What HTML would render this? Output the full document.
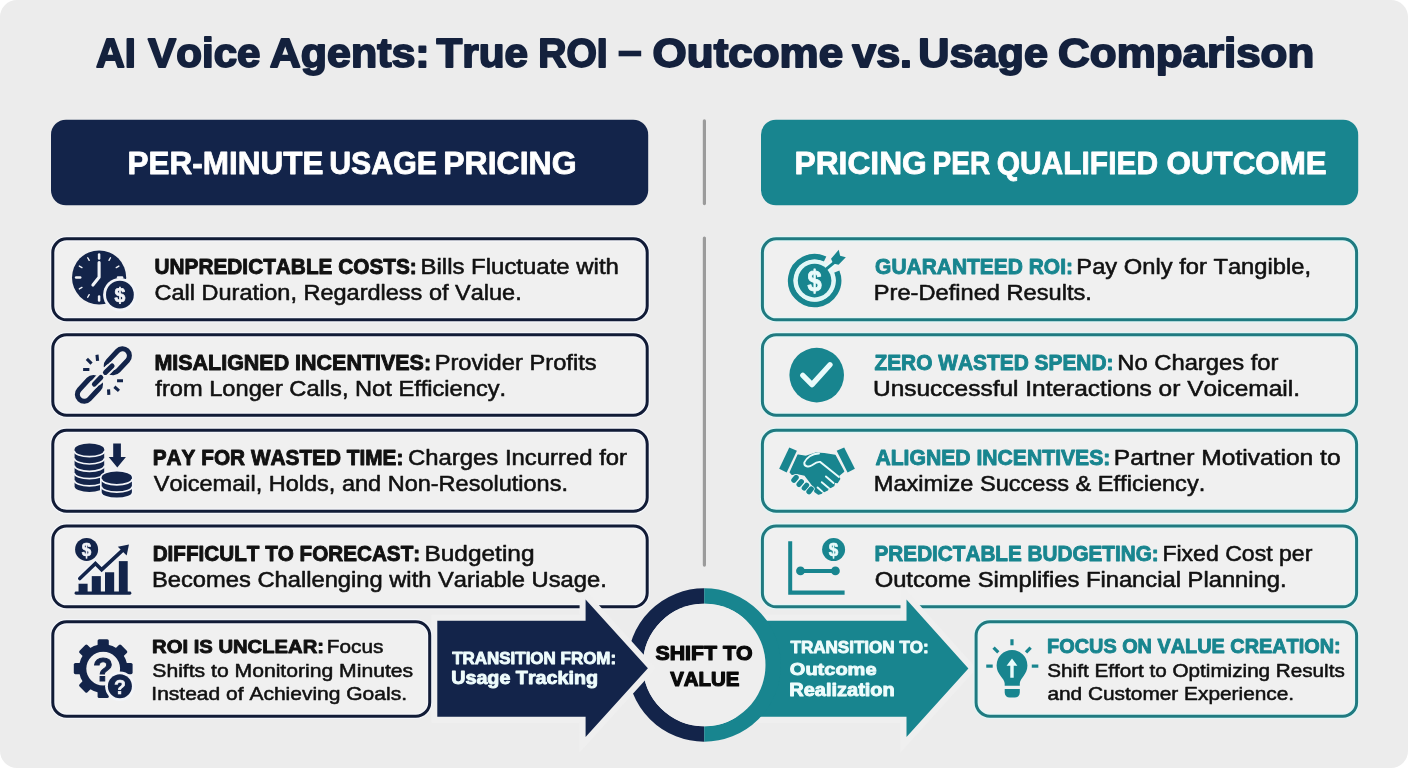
<!DOCTYPE html>
<html><head><meta charset="utf-8"><title>AI Voice Agents: True ROI</title>
<style>
html,body{margin:0;padding:0;background:#ffffff;}
body{width:1408px;height:768px;overflow:hidden;}
svg{display:block;will-change:transform;}
text{font-family:"Liberation Sans",sans-serif;font-kerning:none;white-space:pre;}
</style></head>
<body>
<svg width="1408" height="768" viewBox="0 0 1408 768">
<rect x="0" y="0" width="1408" height="768" rx="17" ry="17" fill="#ececec"/>
<rect x="702.8" y="119.2" width="3.2" height="86" rx="1.6" fill="#9b9b9b"/>
<rect x="702.8" y="236.5" width="3.2" height="330.2" rx="1.6" fill="#9b9b9b"/>
<rect x="51" y="119.7" width="597.2" height="85.6" rx="15" fill="#13244a"/>
<rect x="761" y="119.7" width="597.2" height="85.6" rx="15" fill="#18858f"/>
<rect x="52.80" y="238.80" width="594.40" height="80.95" rx="13.8" fill="#f0f0f0" stroke="#f3f5fa" stroke-width="5.4"/><rect x="52.80" y="238.80" width="594.40" height="80.95" rx="13.8" fill="none" stroke="#111b36" stroke-width="3.0"/>
<rect x="762.40" y="238.80" width="594.20" height="80.95" rx="13.8" fill="#f0f0f0" stroke="#e1f6f6" stroke-width="5.4"/><rect x="762.40" y="238.80" width="594.20" height="80.95" rx="13.8" fill="none" stroke="#1f7a80" stroke-width="3.0"/>
<rect x="52.80" y="334.70" width="594.40" height="80.50" rx="13.8" fill="#f0f0f0" stroke="#f3f5fa" stroke-width="5.4"/><rect x="52.80" y="334.70" width="594.40" height="80.50" rx="13.8" fill="none" stroke="#111b36" stroke-width="3.0"/>
<rect x="762.40" y="334.70" width="594.20" height="80.50" rx="13.8" fill="#f0f0f0" stroke="#e1f6f6" stroke-width="5.4"/><rect x="762.40" y="334.70" width="594.20" height="80.50" rx="13.8" fill="none" stroke="#1f7a80" stroke-width="3.0"/>
<rect x="52.80" y="430.25" width="594.40" height="81.05" rx="13.8" fill="#f0f0f0" stroke="#f3f5fa" stroke-width="5.4"/><rect x="52.80" y="430.25" width="594.40" height="81.05" rx="13.8" fill="none" stroke="#111b36" stroke-width="3.0"/>
<rect x="762.40" y="430.25" width="594.20" height="81.05" rx="13.8" fill="#f0f0f0" stroke="#e1f6f6" stroke-width="5.4"/><rect x="762.40" y="430.25" width="594.20" height="81.05" rx="13.8" fill="none" stroke="#1f7a80" stroke-width="3.0"/>
<rect x="52.80" y="525.90" width="594.40" height="80.90" rx="13.8" fill="#f0f0f0" stroke="#f3f5fa" stroke-width="5.4"/><rect x="52.80" y="525.90" width="594.40" height="80.90" rx="13.8" fill="none" stroke="#111b36" stroke-width="3.0"/>
<rect x="762.40" y="525.90" width="594.20" height="80.90" rx="13.8" fill="#f0f0f0" stroke="#e1f6f6" stroke-width="5.4"/><rect x="762.40" y="525.90" width="594.20" height="80.90" rx="13.8" fill="none" stroke="#1f7a80" stroke-width="3.0"/>
<path d="M704.2,596.0 A69.0,69.0 0 0 0 704.2,734.0" fill="none" stroke="#13244a" stroke-width="15.400000000000006"/>
<path d="M704,620.8 L906.5,620.8 L906.5,599.4 L968.4,668.4 L906.5,736.9 L906.5,716.7 L704,716.7 Z" fill="#18858f" stroke="#efefef" stroke-width="12" stroke-linejoin="miter" paint-order="stroke"/>
<path d="M704.2,596.0 A69.0,69.0 0 0 1 704.2,734.0" fill="none" stroke="#18858f" stroke-width="15.400000000000006"/>
<circle cx="704.2" cy="665.0" r="61.3" fill="#eeeeee"/>
<path d="M437.3,620.8 L585.6,620.8 L585.6,599.4 L647.9,668.2 L585.6,736.9 L585.6,716.7 L437.3,716.7 Z" fill="#13244a" stroke="#efefef" stroke-width="12" stroke-linejoin="miter" paint-order="stroke"/>
<rect x="52.80" y="621.70" width="376.90" height="94.50" rx="13.8" fill="#f0f0f0" stroke="#f3f5fa" stroke-width="5.4"/><rect x="52.80" y="621.70" width="376.90" height="94.50" rx="13.8" fill="none" stroke="#111b36" stroke-width="3.0"/>
<rect x="976.10" y="621.70" width="380.50" height="94.50" rx="13.8" fill="#f0f0f0" stroke="#e1f6f6" stroke-width="5.4"/><rect x="976.10" y="621.70" width="380.50" height="94.50" rx="13.8" fill="none" stroke="#1f7a80" stroke-width="3.0"/>
<circle cx="99.1" cy="277.5" r="27.1" fill="#13244a"/>
<line x1="99.10" y1="258.60" x2="99.10" y2="254.50" stroke="#f2f4f8" stroke-width="2.5" stroke-linecap="round"/>
<line x1="109.00" y1="260.35" x2="110.50" y2="257.75" stroke="#f2f4f8" stroke-width="1.4" stroke-linecap="round"/>
<line x1="116.25" y1="267.60" x2="118.85" y2="266.10" stroke="#f2f4f8" stroke-width="1.4" stroke-linecap="round"/>
<line x1="118.00" y1="277.50" x2="122.10" y2="277.50" stroke="#f2f4f8" stroke-width="2.5" stroke-linecap="round"/>
<line x1="116.25" y1="287.40" x2="118.85" y2="288.90" stroke="#f2f4f8" stroke-width="1.4" stroke-linecap="round"/>
<line x1="109.00" y1="294.65" x2="110.50" y2="297.25" stroke="#f2f4f8" stroke-width="1.4" stroke-linecap="round"/>
<line x1="99.10" y1="296.40" x2="99.10" y2="300.50" stroke="#f2f4f8" stroke-width="2.5" stroke-linecap="round"/>
<line x1="89.20" y1="294.65" x2="87.70" y2="297.25" stroke="#f2f4f8" stroke-width="1.4" stroke-linecap="round"/>
<line x1="81.95" y1="287.40" x2="79.35" y2="288.90" stroke="#f2f4f8" stroke-width="1.4" stroke-linecap="round"/>
<line x1="80.20" y1="277.50" x2="76.10" y2="277.50" stroke="#f2f4f8" stroke-width="2.5" stroke-linecap="round"/>
<line x1="81.95" y1="267.60" x2="79.35" y2="266.10" stroke="#f2f4f8" stroke-width="1.4" stroke-linecap="round"/>
<line x1="89.20" y1="260.35" x2="87.70" y2="257.75" stroke="#f2f4f8" stroke-width="1.4" stroke-linecap="round"/>
<polyline points="99.1,262.6 99.1,277.2 92.9,285" fill="none" stroke="#f2f4f8" stroke-width="3.1" stroke-linecap="round" stroke-linejoin="round"/>
<circle cx="119.9" cy="294.7" r="16.8" fill="#f2f4f8"/>
<circle cx="119.9" cy="294.7" r="13.9" fill="#13244a"/>
<text transform="translate(119.90,301.97) scale(0.95,1)" text-anchor="middle" font-size="20.5" font-weight="bold" fill="#f2f4f8" stroke="#f2f4f8" stroke-width="0.7" stroke-linejoin="round">$</text>
<rect x="-13.8" y="-6.9" width="27.6" height="13.8" rx="6.9" transform="translate(117.81,360.79) rotate(-47)" fill="none" stroke="#13244a" stroke-width="5"/>
<rect x="-13.8" y="-6.9" width="27.6" height="13.8" rx="6.9" transform="translate(88.96,389.33) rotate(-47)" fill="none" stroke="#13244a" stroke-width="5"/>
<line x1="108.96" y1="368.81" x2="105.83" y2="371.94" stroke="#f0f0f0" stroke-width="9" stroke-linecap="round"/>
<line x1="101.15" y1="377.67" x2="97.71" y2="381.00" stroke="#f0f0f0" stroke-width="9" stroke-linecap="round"/>
<line x1="112.60" y1="365.69" x2="105.00" y2="372.67" stroke="#f0f0f0" stroke-width="8.6" stroke-linecap="round"/>
<line x1="100.10" y1="377.67" x2="93.85" y2="384.44" stroke="#f0f0f0" stroke-width="8.6" stroke-linecap="round"/>
<line x1="112.08" y1="366.00" x2="105.42" y2="372.46" stroke="#13244a" stroke-width="5" stroke-linecap="round"/>
<line x1="100.83" y1="377.46" x2="94.38" y2="384.12" stroke="#13244a" stroke-width="5" stroke-linecap="round"/>
<line x1="96.98" y1="354.75" x2="97.60" y2="360.79" stroke="#13244a" stroke-width="3.1" stroke-linecap="butt"/>
<line x1="86.88" y1="358.92" x2="91.56" y2="363.60" stroke="#13244a" stroke-width="3.1" stroke-linecap="butt"/>
<line x1="83.12" y1="369.44" x2="89.38" y2="369.54" stroke="#13244a" stroke-width="3.1" stroke-linecap="butt"/>
<line x1="117.08" y1="380.69" x2="123.02" y2="380.79" stroke="#13244a" stroke-width="3.1" stroke-linecap="butt"/>
<line x1="114.38" y1="386.73" x2="118.96" y2="390.79" stroke="#13244a" stroke-width="3.1" stroke-linecap="butt"/>
<line x1="108.54" y1="389.33" x2="108.85" y2="394.96" stroke="#13244a" stroke-width="3.1" stroke-linecap="butt"/>
<path d="M74.60000000000001,449.2 A14.8,5.7 0 0 1 104.2,449.2 L104.2,486.2 A14.8,5.7 0 0 1 74.60000000000001,486.2 Z" fill="#13244a"/><path d="M74.30000000000001,451.0 A15.100000000000001,5.7 0 0 0 104.5,451.0" fill="none" stroke="#f2f4f8" stroke-width="1.7"/><path d="M74.30000000000001,458.3 A15.100000000000001,5.7 0 0 0 104.5,458.3" fill="none" stroke="#f2f4f8" stroke-width="1.7"/><path d="M74.30000000000001,465.6 A15.100000000000001,5.7 0 0 0 104.5,465.6" fill="none" stroke="#f2f4f8" stroke-width="1.7"/><path d="M74.30000000000001,472.9 A15.100000000000001,5.7 0 0 0 104.5,472.9" fill="none" stroke="#f2f4f8" stroke-width="1.7"/><path d="M74.30000000000001,480.2 A15.100000000000001,5.7 0 0 0 104.5,480.2" fill="none" stroke="#f2f4f8" stroke-width="1.7"/>
<path d="M101.7,477.3 A15.1,5.7 0 0 1 131.9,477.3 L131.9,491.9 A15.1,5.7 0 0 1 101.7,491.9 Z" fill="#f2f4f8" stroke="#f2f4f8" stroke-width="3.4"/><path d="M101.7,477.3 A15.1,5.7 0 0 1 131.9,477.3 L131.9,491.9 A15.1,5.7 0 0 1 101.7,491.9 Z" fill="#13244a"/><path d="M101.4,479.1 A15.4,5.7 0 0 0 132.20000000000002,479.1" fill="none" stroke="#f2f4f8" stroke-width="1.7"/><path d="M101.4,486.4 A15.4,5.7 0 0 0 132.20000000000002,486.4" fill="none" stroke="#f2f4f8" stroke-width="1.7"/>
<path d="M113.2,443.5 H120.9 V457 H125.9 L117.3,467.6 L108.7,457 H113.2 Z" fill="#13244a"/>
<circle cx="86.6" cy="549.4" r="11.5" fill="#13244a"/>
<text transform="translate(86.60,555.71) scale(0.95,1)" text-anchor="middle" font-size="18" font-weight="bold" fill="#f2f4f8" stroke="#f2f4f8" stroke-width="0.6" stroke-linejoin="round">$</text>
<rect x="74.58" y="591.54" width="56.77" height="3.12" rx="1.4" fill="#13244a"/>
<rect x="78.54" y="583.73" width="9.06" height="8.33" fill="#13244a"/>
<rect x="91.77" y="576.12" width="9.06" height="15.94" fill="#13244a"/>
<rect x="105.00" y="572.27" width="9.17" height="19.79" fill="#13244a"/>
<rect x="118.85" y="561.12" width="8.85" height="30.94" fill="#13244a"/>
<polyline points="79.79,578.52 95.42,563.42 101.67,569.67 123.54,549.35" fill="none" stroke="#f2f4f8" stroke-width="6.2" stroke-linecap="round" stroke-linejoin="miter"/>
<polyline points="79.79,578.52 95.42,563.42 101.67,569.67 123.54,549.35" fill="none" stroke="#13244a" stroke-width="3.6" stroke-linecap="round" stroke-linejoin="miter"/>
<polygon points="128.96,544.46 117.81,546.75 126.67,555.60" fill="#13244a"/>
<rect x="-5.6" y="-29.4" width="11.2" height="12" rx="1.6" transform="translate(103.2,668.6) rotate(0)" fill="#13244a"/>
<rect x="-5.6" y="-29.4" width="11.2" height="12" rx="1.6" transform="translate(103.2,668.6) rotate(45)" fill="#13244a"/>
<rect x="-5.6" y="-29.4" width="11.2" height="12" rx="1.6" transform="translate(103.2,668.6) rotate(90)" fill="#13244a"/>
<rect x="-5.6" y="-29.4" width="11.2" height="12" rx="1.6" transform="translate(103.2,668.6) rotate(135)" fill="#13244a"/>
<rect x="-5.6" y="-29.4" width="11.2" height="12" rx="1.6" transform="translate(103.2,668.6) rotate(180)" fill="#13244a"/>
<rect x="-5.6" y="-29.4" width="11.2" height="12" rx="1.6" transform="translate(103.2,668.6) rotate(225)" fill="#13244a"/>
<rect x="-5.6" y="-29.4" width="11.2" height="12" rx="1.6" transform="translate(103.2,668.6) rotate(270)" fill="#13244a"/>
<rect x="-5.6" y="-29.4" width="11.2" height="12" rx="1.6" transform="translate(103.2,668.6) rotate(315)" fill="#13244a"/>
<circle cx="103.2" cy="668.6" r="20.6" fill="none" stroke="#13244a" stroke-width="7.4"/>
<text x="103.2" y="680.8000000000001" text-anchor="middle" font-size="33" font-weight="bold" fill="#13244a" stroke="#13244a" stroke-width="1">?</text>
<circle cx="119.9" cy="686.3" r="14.8" fill="#f2f4f8"/>
<circle cx="119.9" cy="686.3" r="12" fill="#13244a"/>
<text x="119.9" y="693.6" text-anchor="middle" font-size="19.5" font-weight="bold" fill="#f2f4f8" stroke="#f2f4f8" stroke-width="0.5">?</text>
<path d="M825.03,259.21 A23.8,23.8 0 1 0 836.67,271.68" fill="none" stroke="#18858f" stroke-width="5.8"/>
<circle cx="814.6" cy="280.6" r="21.2" fill="#e2f7f7"/>
<circle cx="814.6" cy="280.6" r="16.8" fill="#18858f"/>
<line x1="827.08" y1="268.33" x2="837.50" y2="259.79" stroke="#e9fbfb" stroke-width="6.2" stroke-linecap="butt"/>
<line x1="825.83" y1="269.38" x2="838.02" y2="259.38" stroke="#18858f" stroke-width="3.0" stroke-linecap="butt"/>
<polygon points="831.04,258.75 838.75,249.79 840.10,255.83 845.83,257.29 838.54,264.79 833.12,263.54" fill="#18858f"/>
<text transform="translate(814.60,291.18) scale(0.86,1)" text-anchor="middle" font-size="29.5" font-weight="bold" fill="#e9fbfb" stroke="#e9fbfb" stroke-width="0.9" stroke-linejoin="round">$</text>
<circle cx="816.7" cy="375.1" r="27.3" fill="#18858f"/>
<polyline points="802.8,375.3 812,384.6 830,364.8" fill="none" stroke="#e9fbfb" stroke-width="5.3" stroke-linecap="round" stroke-linejoin="round"/>
<polygon points="789.27,447.42 796.88,450.75 786.67,472.42 779.17,468.67" fill="#18858f"/>
<polygon points="836.67,450.75 844.17,447.42 854.90,468.67 847.60,472.62" fill="#18858f"/>
<polygon points="798.12,455.12 805.94,456.58 815.83,453.15 824.17,453.67 835.10,455.54 843.54,471.38 839.58,474.71 838.23,473.88 839.58,478.88 837.19,482.52 834.38,482.00 833.75,485.65 830.62,487.42 828.33,486.38 827.50,489.92 824.38,491.38 822.08,490.02 821.67,492.94 818.54,494.08 815.00,491.58 813.54,486.17 804.90,474.92 796.56,473.25 792.08,474.19 790.31,472.21" fill="#18858f" stroke="#18858f" stroke-width="1.5" stroke-linejoin="round"/>
<path d="M818.96,453.56 C811.67,453.35 806.46,458.04 804.38,462.42 C803.54,466.58 808.75,467.42 811.88,465.33 C814.79,463.25 816.88,461.38 820.21,462.00 L838.96,477.00" fill="none" stroke="#e9fbfb" stroke-width="1.9" stroke-linecap="round"/>
<line x1="825.94" y1="476.48" x2="833.54" y2="483.04" stroke="#e9fbfb" stroke-width="1.9" stroke-linecap="round"/>
<line x1="821.77" y1="482.21" x2="828.33" y2="487.73" stroke="#e9fbfb" stroke-width="1.9" stroke-linecap="round"/>
<line x1="817.60" y1="487.42" x2="822.08" y2="491.38" stroke="#e9fbfb" stroke-width="1.9" stroke-linecap="round"/>
<rect x="-4.4" y="-2.6" width="8.8" height="5.2" rx="2.6" transform="translate(795.00,478.88) rotate(-50)" fill="#18858f" stroke="#e9fbfb" stroke-width="1.4" paint-order="stroke"/>
<rect x="-4.4" y="-2.6" width="8.8" height="5.2" rx="2.6" transform="translate(800.21,483.04) rotate(-50)" fill="#18858f" stroke="#e9fbfb" stroke-width="1.4" paint-order="stroke"/>
<rect x="-4.4" y="-2.6" width="8.8" height="5.2" rx="2.6" transform="translate(805.42,486.69) rotate(-50)" fill="#18858f" stroke="#e9fbfb" stroke-width="1.4" paint-order="stroke"/>
<rect x="-4.4" y="-2.6" width="8.8" height="5.2" rx="2.6" transform="translate(810.10,490.33) rotate(-50)" fill="#18858f" stroke="#e9fbfb" stroke-width="1.4" paint-order="stroke"/>
<path d="M788.2,541.3 H792.2 V590.6 H844.6 V594.7 H788.2 Z" fill="#18858f"/>
<line x1="800.5" y1="570.9" x2="835.4" y2="570.9" stroke="#18858f" stroke-width="4"/>
<circle cx="800.5" cy="570.9" r="4.4" fill="#18858f"/><circle cx="835.4" cy="570.9" r="4.4" fill="#18858f"/>
<circle cx="833.6" cy="549.6" r="11.5" fill="#18858f"/>
<text transform="translate(833.60,555.91) scale(0.95,1)" text-anchor="middle" font-size="18" font-weight="bold" fill="#e9fbfb" stroke="#e9fbfb" stroke-width="0.6" stroke-linejoin="round">$</text>
<path d="M1004.7,685.8 L1004.7,683.5 C1004.7,678.5 996.6,674.5 996.6,665.5 A15.4,15.4 0 1 1 1027.4,665.5 C1027.4,674.5 1019.8,678.5 1019.8,683.5 L1019.8,685.8 Z" fill="#18858f"/>
<path d="M1004.7,689 H1019.8 V692.6 a5,5 0 0 1 -5,5 h-5.1 a5,5 0 0 1 -5,-5 Z" fill="#18858f"/>
<path d="M1010.3,677.8 V665.8 H1006.6 L1012,658.4 L1017.4,665.8 H1013.7 V677.8 Z" fill="#e9fbfb"/>
<line x1="1011.98" y1="639.25" x2="1011.98" y2="645.29" stroke="#18858f" stroke-width="3.2" stroke-linecap="butt"/>
<line x1="993.54" y1="647.58" x2="998.33" y2="652.38" stroke="#18858f" stroke-width="3.2" stroke-linecap="butt"/>
<line x1="1030.62" y1="647.58" x2="1026.04" y2="652.38" stroke="#18858f" stroke-width="3.2" stroke-linecap="butt"/>
<line x1="986.25" y1="666.12" x2="992.71" y2="666.12" stroke="#18858f" stroke-width="3.2" stroke-linecap="butt"/>
<line x1="1031.77" y1="666.12" x2="1038.33" y2="666.12" stroke="#18858f" stroke-width="3.2" stroke-linecap="butt"/>
<text transform="translate(95.91,66.90) scale(0.9936,1)" font-size="40.12" font-weight="bold" fill="#14213d" stroke="#14213d" stroke-width="1.8" stroke-linejoin="round">AI</text>
<text transform="translate(148.11,66.90) scale(1.0504,1)" font-size="40.12" font-weight="bold" fill="#14213d" stroke="#14213d" stroke-width="1.8" stroke-linejoin="round">Voice</text>
<text transform="translate(269.83,66.90) scale(1.0709,1)" font-size="40.12" font-weight="bold" fill="#14213d" stroke="#14213d" stroke-width="1.8" stroke-linejoin="round">Agents:</text>
<text transform="translate(436.43,66.90) scale(1.0539,1)" font-size="40.12" font-weight="bold" fill="#14213d" stroke="#14213d" stroke-width="1.8" stroke-linejoin="round">True</text>
<text transform="translate(538.29,66.90) scale(0.9734,1)" font-size="40.12" font-weight="bold" fill="#14213d" stroke="#14213d" stroke-width="1.8" stroke-linejoin="round">ROI</text>
<text transform="translate(652.60,66.90) scale(1.0957,1)" font-size="40.12" font-weight="bold" fill="#14213d" stroke="#14213d" stroke-width="1.8" stroke-linejoin="round">Outcome</text>
<text transform="translate(852.23,66.90) scale(1.0729,1)" font-size="40.12" font-weight="bold" fill="#14213d" stroke="#14213d" stroke-width="1.8" stroke-linejoin="round">vs.</text>
<text transform="translate(918.30,66.90) scale(1.0778,1)" font-size="40.12" font-weight="bold" fill="#14213d" stroke="#14213d" stroke-width="1.8" stroke-linejoin="round">Usage</text>
<text transform="translate(1058.10,66.90) scale(1.0948,1)" font-size="40.12" font-weight="bold" fill="#14213d" stroke="#14213d" stroke-width="1.8" stroke-linejoin="round">Comparison</text>
<rect x="618.6" y="50.7" width="22.6" height="5.6" fill="#14213d"/>
<text transform="translate(127.49,173.50) scale(0.9808,1)" font-size="32.12" font-weight="bold" fill="#ffffff" stroke="#ffffff" stroke-width="0.8" stroke-linejoin="round">PER-MINUTE</text>
<text transform="translate(329.18,173.50) scale(0.9446,1)" font-size="32.12" font-weight="bold" fill="#ffffff" stroke="#ffffff" stroke-width="0.8" stroke-linejoin="round">USAGE</text>
<text transform="translate(443.26,173.50) scale(0.9960,1)" font-size="32.12" font-weight="bold" fill="#ffffff" stroke="#ffffff" stroke-width="0.8" stroke-linejoin="round">PRICING</text>
<text transform="translate(794.47,173.50) scale(0.9891,1)" font-size="32.12" font-weight="bold" fill="#ffffff" stroke="#ffffff" stroke-width="0.8" stroke-linejoin="round">PRICING</text>
<text transform="translate(932.52,173.50) scale(0.8728,1)" font-size="32.12" font-weight="bold" fill="#ffffff" stroke="#ffffff" stroke-width="0.8" stroke-linejoin="round">PER</text>
<text transform="translate(996.67,173.50) scale(0.9329,1)" font-size="32.12" font-weight="bold" fill="#ffffff" stroke="#ffffff" stroke-width="0.8" stroke-linejoin="round">QUALIFIED</text>
<text transform="translate(1166.51,173.50) scale(0.9765,1)" font-size="32.12" font-weight="bold" fill="#ffffff" stroke="#ffffff" stroke-width="0.8" stroke-linejoin="round">OUTCOME</text>
<text transform="translate(154.60,273.65) scale(0.9729,1)" font-size="21.37" font-weight="bold" fill="#111111" stroke="#111111" stroke-width="0.9" stroke-linejoin="round">UNPREDICTABLE COSTS:</text>
<text transform="translate(420.51,273.83) scale(1.0957,1)" font-size="21.88" font-weight="normal" fill="#111111" stroke="#111111" stroke-width="0.55" stroke-linejoin="round">Bills Fluctuate with</text>
<text transform="translate(154.48,300.12) scale(1.0753,1)" font-size="21.88" font-weight="normal" fill="#111111" stroke="#111111" stroke-width="0.55" stroke-linejoin="round">Call Duration, Regardless of Value.</text>
<text transform="translate(154.41,369.55) scale(1.0054,1)" font-size="21.37" font-weight="bold" fill="#111111" stroke="#111111" stroke-width="0.9" stroke-linejoin="round">MISALIGNED INCENTIVES:</text>
<text transform="translate(434.63,369.73) scale(1.0838,1)" font-size="21.88" font-weight="normal" fill="#111111" stroke="#111111" stroke-width="0.55" stroke-linejoin="round">Provider Profits</text>
<text transform="translate(155.34,396.03) scale(1.0815,1)" font-size="21.88" font-weight="normal" fill="#111111" stroke="#111111" stroke-width="0.55" stroke-linejoin="round">from Longer Calls, Not Efficiency.</text>
<text transform="translate(152.66,464.55) scale(0.9740,1)" font-size="21.37" font-weight="bold" fill="#111111" stroke="#111111" stroke-width="0.9" stroke-linejoin="round">PAY FOR WASTED TIME:</text>
<text transform="translate(408.06,464.73) scale(1.0919,1)" font-size="21.88" font-weight="normal" fill="#111111" stroke="#111111" stroke-width="0.55" stroke-linejoin="round">Charges Incurred for</text>
<text transform="translate(153.77,491.12) scale(1.0749,1)" font-size="21.88" font-weight="normal" fill="#111111" stroke="#111111" stroke-width="0.55" stroke-linejoin="round">Voicemail, Holds, and Non-Resolutions.</text>
<text transform="translate(152.67,560.85) scale(0.9675,1)" font-size="21.37" font-weight="bold" fill="#111111" stroke="#111111" stroke-width="0.9" stroke-linejoin="round">DIFFICULT TO FORECAST:</text>
<text transform="translate(424.47,561.02) scale(1.1168,1)" font-size="21.88" font-weight="normal" fill="#111111" stroke="#111111" stroke-width="0.55" stroke-linejoin="round">Budgeting</text>
<text transform="translate(151.93,587.12) scale(1.0845,1)" font-size="21.88" font-weight="normal" fill="#111111" stroke="#111111" stroke-width="0.55" stroke-linejoin="round">Becomes Challenging with Variable Usage.</text>
<text transform="translate(875.09,273.65) scale(0.9806,1)" font-size="21.37" font-weight="bold" fill="#18858f" stroke="#18858f" stroke-width="0.9" stroke-linejoin="round">GUARANTEED ROI:</text>
<text transform="translate(1076.33,273.83) scale(1.0846,1)" font-size="21.88" font-weight="normal" fill="#111111" stroke="#111111" stroke-width="0.55" stroke-linejoin="round">Pay Only for Tangible,</text>
<text transform="translate(873.84,300.12) scale(1.0804,1)" font-size="21.88" font-weight="normal" fill="#111111" stroke="#111111" stroke-width="0.55" stroke-linejoin="round">Pre-Defined Results.</text>
<text transform="translate(874.43,369.55) scale(0.9779,1)" font-size="21.37" font-weight="bold" fill="#18858f" stroke="#18858f" stroke-width="0.9" stroke-linejoin="round">ZERO WASTED SPEND:</text>
<text transform="translate(1117.32,369.73) scale(1.0867,1)" font-size="21.88" font-weight="normal" fill="#111111" stroke="#111111" stroke-width="0.55" stroke-linejoin="round">No Charges for</text>
<text transform="translate(872.99,396.03) scale(1.1190,1)" font-size="21.88" font-weight="normal" fill="#111111" stroke="#111111" stroke-width="0.55" stroke-linejoin="round">Unsuccessful Interactions or Voicemail.</text>
<text transform="translate(875.42,464.55) scale(0.9901,1)" font-size="21.37" font-weight="bold" fill="#18858f" stroke="#18858f" stroke-width="0.9" stroke-linejoin="round">ALIGNED INCENTIVES:</text>
<text transform="translate(1113.76,464.73) scale(1.1247,1)" font-size="21.88" font-weight="normal" fill="#111111" stroke="#111111" stroke-width="0.55" stroke-linejoin="round">Partner Motivation to</text>
<text transform="translate(873.84,491.12) scale(1.0780,1)" font-size="21.88" font-weight="normal" fill="#111111" stroke="#111111" stroke-width="0.55" stroke-linejoin="round">Maximize Success &amp; Efficiency.</text>
<text transform="translate(874.56,560.85) scale(0.9696,1)" font-size="21.37" font-weight="bold" fill="#18858f" stroke="#18858f" stroke-width="0.9" stroke-linejoin="round">PREDICTABLE BUDGETING:</text>
<text transform="translate(1162.38,561.02) scale(1.0547,1)" font-size="21.88" font-weight="normal" fill="#111111" stroke="#111111" stroke-width="0.55" stroke-linejoin="round">Fixed Cost per</text>
<text transform="translate(874.65,587.12) scale(1.0867,1)" font-size="21.88" font-weight="normal" fill="#111111" stroke="#111111" stroke-width="0.55" stroke-linejoin="round">Outcome Simplifies Financial Planning.</text>
<text transform="translate(152.10,653.15) scale(1.0786,1)" font-size="18.75" font-weight="bold" fill="#111111" stroke="#111111" stroke-width="0.9" stroke-linejoin="round">ROI IS UNCLEAR:</text>
<text transform="translate(326.87,653.33) scale(1.0793,1)" font-size="19.26" font-weight="normal" fill="#111111" stroke="#111111" stroke-width="0.55" stroke-linejoin="round">Focus</text>
<text transform="translate(152.31,676.73) scale(1.0978,1)" font-size="19.26" font-weight="normal" fill="#111111" stroke="#111111" stroke-width="0.55" stroke-linejoin="round">Shifts to Monitoring Minutes</text>
<text transform="translate(151.34,699.93) scale(1.0911,1)" font-size="19.26" font-weight="normal" fill="#111111" stroke="#111111" stroke-width="0.55" stroke-linejoin="round">Instead of Achieving Goals.</text>
<text transform="translate(1047.12,652.75) scale(1.0130,1)" font-size="19.62" font-weight="bold" fill="#18858f" stroke="#18858f" stroke-width="0.9" stroke-linejoin="round">FOCUS ON VALUE CREATION:</text>
<text transform="translate(1047.34,676.73) scale(1.0733,1)" font-size="19.26" font-weight="normal" fill="#111111" stroke="#111111" stroke-width="0.55" stroke-linejoin="round">Shift Effort to Optimizing Results</text>
<text transform="translate(1047.39,699.93) scale(1.0826,1)" font-size="19.26" font-weight="normal" fill="#111111" stroke="#111111" stroke-width="0.55" stroke-linejoin="round">and Customer Experience.</text>
<text transform="translate(452.16,663.55) scale(1.0065,1)" font-size="16.86" font-weight="bold" fill="#eefcfc" stroke="#eefcfc" stroke-width="0.9" stroke-linejoin="round">TRANSITION FROM:</text>
<text transform="translate(451.16,684.35) scale(1.1224,1)" font-size="17.59" font-weight="bold" fill="#eefcfc" stroke="#eefcfc" stroke-width="0.9" stroke-linejoin="round">Usage Tracking</text>
<text transform="translate(790.46,653.05) scale(1.0123,1)" font-size="16.86" font-weight="bold" fill="#eefcfc" stroke="#eefcfc" stroke-width="0.9" stroke-linejoin="round">TRANSITION TO:</text>
<text transform="translate(789.83,674.55) scale(1.1764,1)" font-size="17.01" font-weight="bold" fill="#eefcfc" stroke="#eefcfc" stroke-width="0.9" stroke-linejoin="round">Outcome</text>
<text transform="translate(789.31,696.25) scale(1.1456,1)" font-size="17.44" font-weight="bold" fill="#eefcfc" stroke="#eefcfc" stroke-width="0.9" stroke-linejoin="round">Realization</text>
<text transform="translate(655.59,660.30) scale(1.0380,1)" font-size="20.49" font-weight="bold" fill="#0a0a0a" stroke="#0a0a0a" stroke-width="1.2" stroke-linejoin="round">SHIFT TO</text>
<text transform="translate(670.16,686.00) scale(0.9983,1)" font-size="20.49" font-weight="bold" fill="#0a0a0a" stroke="#0a0a0a" stroke-width="1.2" stroke-linejoin="round">VALUE</text>
</svg>
</body></html>
